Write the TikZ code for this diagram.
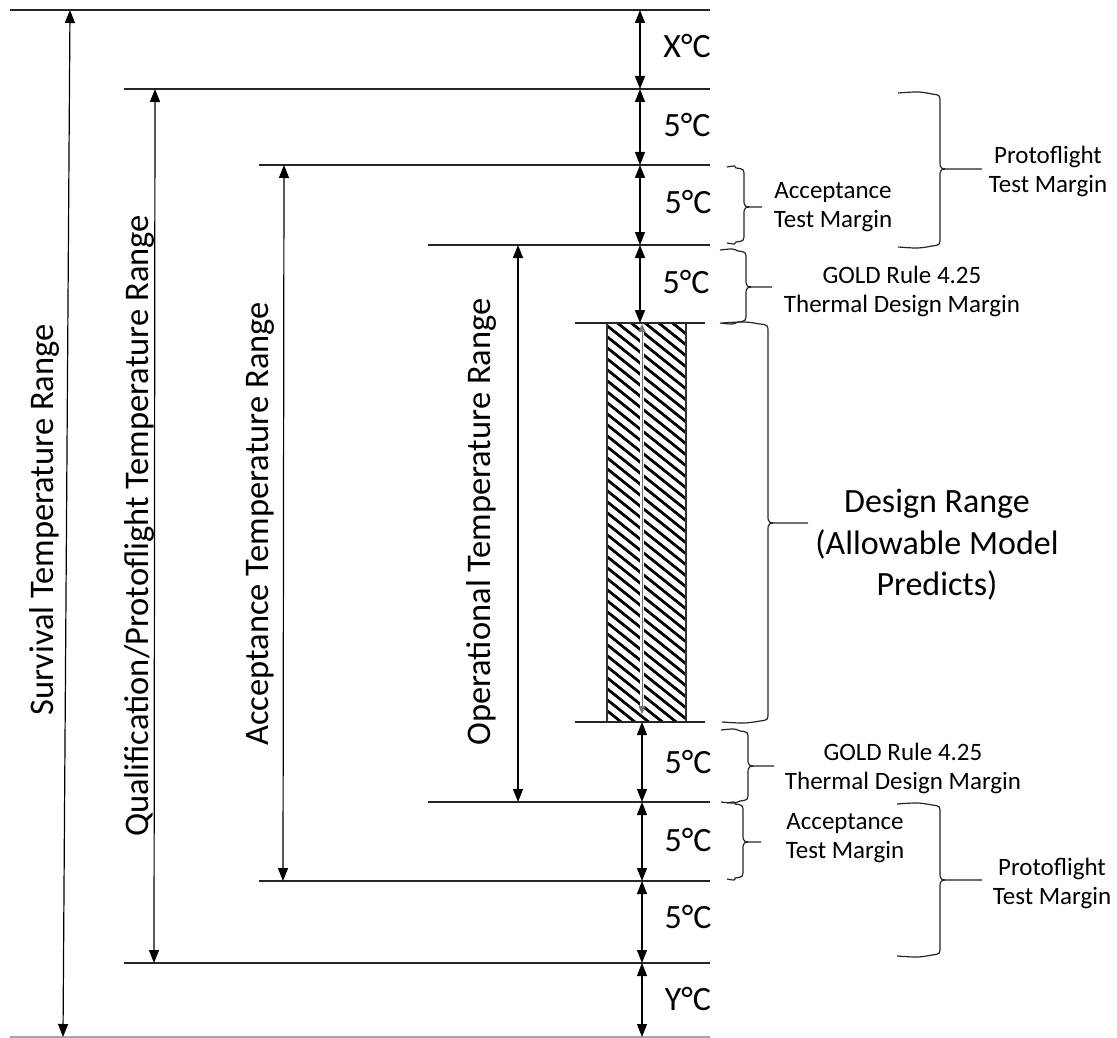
\documentclass[tikz,border=0pt]{standalone}
\usepackage{fontspec}
\setmainfont{Carlito}
\usetikzlibrary{arrows.meta}
\tikzset{
  lvl/.style={line width=1.3pt, black!85},
  dimarrow/.style={line width=1.2pt, {Triangle[length=13pt,width=10pt]}-{Triangle[length=13pt,width=10pt]}},
  brc/.style={line width=1.2pt, black!85},
  deg/.style={font=\fontsize{34}{40}\selectfont, anchor=base, inner sep=0pt},
  rng/.style={font=\fontsize{34.5}{40}\selectfont, rotate=90, anchor=base, inner sep=0pt},
  mrg/.style={font=\fontsize{25}{29}\selectfont, align=center, inner sep=0pt},
  dsg/.style={font=\fontsize{34}{41.5}\selectfont, align=center, inner sep=0pt},
}
\newcommand\mybrace[6]{%
  \draw[brc] (#1,#4) .. controls ({(#1+#2)/2},#4-1.5) .. (#2-8,#4+1) .. controls (#2,#4+2) .. (#2,#4+10)
    -- (#2,#5-8) .. controls (#2,#5) .. (#2+12,#5) -- (#3,#5)
    (#2+12,#5) .. controls (#2,#5) .. (#2,#5+8)
    -- (#2,#6-10) .. controls (#2,#6-2) .. (#2-8,#6-1) .. controls ({(#1+#2)/2},#6+1.5) .. (#1,#6);}
\begin{document}
\begin{tikzpicture}[x=1pt,y=-1pt]
\useasboundingbox[fill=white] (0,0) rectangle (1117,1038);
% levels
\draw[lvl] (10,10) -- (710,10);
\draw[lvl] (124,89) -- (710,89);
\draw[lvl] (259,165) -- (710,165);
\draw[lvl] (428,245) -- (710,245);
\draw[lvl] (428,802) -- (710,802);
\draw[lvl] (259,881) -- (710,881);
\draw[lvl] (124,963) -- (710,963);
\draw[lvl, black!35] (10,1037) -- (710,1037);
% hatched box
\begin{scope}
  \clip (607,323) rectangle (686,722);
  \foreach \k in {0,...,46} {\draw[line width=2.8pt] (600,{323-80+11*\k}) -- ++(110,88);}
\end{scope}
\draw[line width=1.5pt, black!80] (607,323) rectangle (686,722);
\draw[lvl] (575,323) -- (705,323);
\draw[lvl] (575,722) -- (705,722);
\draw[white, line width=3.5pt] (642,326) -- (642,712);
\draw[black!55, line width=0.8pt, {Triangle[length=8pt,width=7pt]}-{Triangle[length=8pt,width=7pt]}] (642,324) -- (642,714);
% range arrows
\draw[dimarrow] (70,10) -- (63,1037);
\draw[dimarrow] (155,89) -- (154,963);
\draw[dimarrow] (284,165) -- (283,881);
\draw[dimarrow] (518,245) -- (518,802);
% margin arrows
\draw[dimarrow] (640,10) -- (640,89);
\draw[dimarrow] (640,89) -- (640,165);
\draw[dimarrow] (640,165) -- (640,245);
\draw[dimarrow] (640,245) -- (640,323);
\draw[dimarrow] (642,722) -- (642,802);
\draw[dimarrow] (642,802) -- (642,881);
\draw[dimarrow] (642,881) -- (642,963);
\draw[dimarrow] (642,963) -- (642,1037);
% degree labels
\node[deg] (dx) at (687,58) {X°C};
\node[deg] (d1) at (687,137) {5°C};
\node[deg] (d2) at (688,214) {5°C};
\node[deg] (d3) at (686,293) {5°C};
\node[deg] (d4) at (688,773) {5°C};
\node[deg] (d5) at (688,851) {5°C};
\node[deg] (d6) at (688,928) {5°C};
\node[deg] (dy) at (688,1010) {Y°C};
% range labels
\node[rng] (rs) at (53,520) {Survival Temperature Range};
\node[rng] (rq) at (148,526) {Qualification/Protoflight Temperature Range};
\node[rng] (ra) at (268,524) {Acceptance Temperature Range};
\node[rng] (ro) at (490,522) {Operational Temperature Range};
% braces
\mybrace{898}{940}{982}{93}{169}{247}
\mybrace{727}{744}{762}{167}{207}{243}
\mybrace{720}{746}{772}{250}{287}{323}
\mybrace{722}{768}{808}{323}{523}{722}
\mybrace{721}{748}{774}{730}{766}{802}
\mybrace{727}{743}{761}{803}{842}{879}
\mybrace{897}{940}{982}{804}{880}{956}
% margin labels
\node[mrg] (pft) at (1048,171) {Protoflight\\Test Margin};
\node[mrg] (act) at (833,207.5) {Acceptance\\Test Margin};
\node[mrg] (gdt) at (902,291.5) {GOLD Rule 4.25\\Thermal Design Margin};
\node[dsg] (dr) at (937,545) {Design Range\\(Allowable Model\\Predicts)};
\node[mrg] (gdb) at (903,768.5) {GOLD Rule 4.25\\Thermal Design Margin};
\node[mrg] (acb) at (845,838.5) {Acceptance\\Test Margin};
\node[mrg] (pfb) at (1052,883.5) {Protoflight\\Test Margin};
\end{tikzpicture}
\end{document}
